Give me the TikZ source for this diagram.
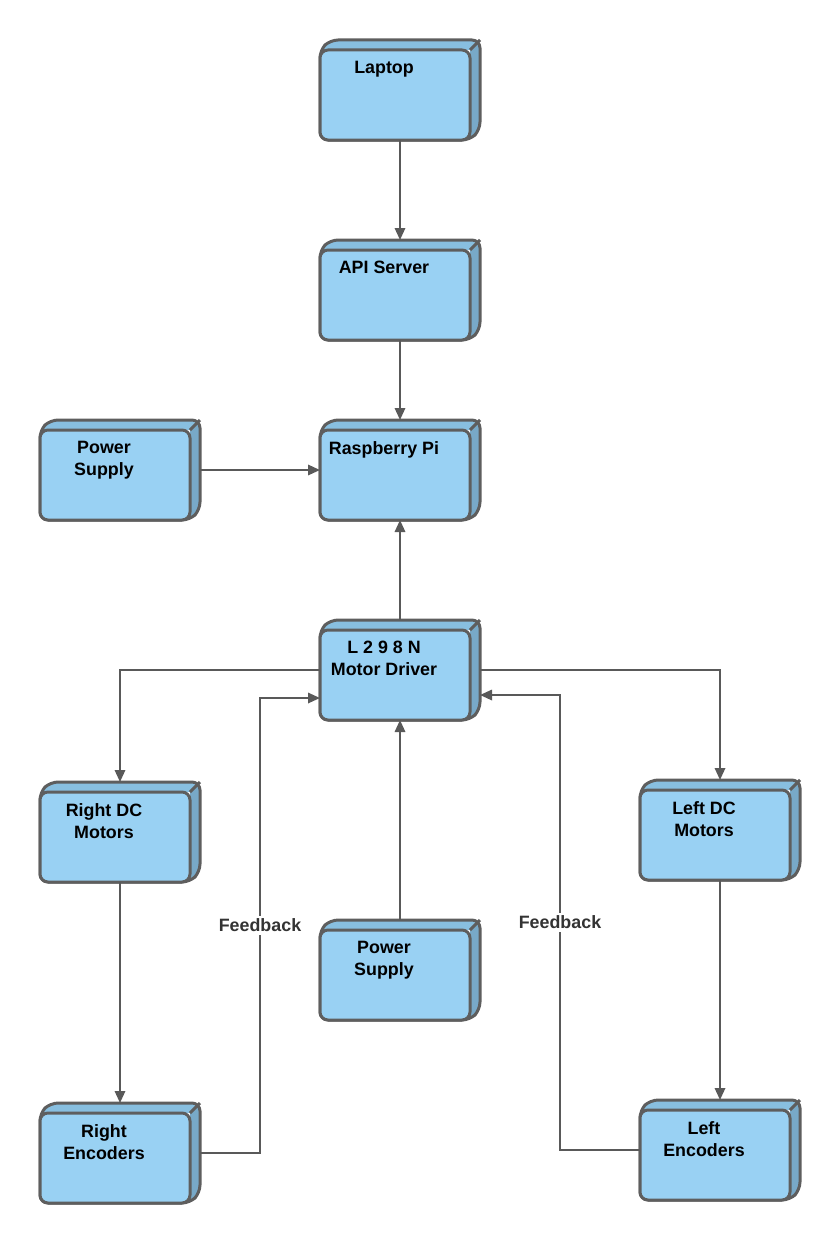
\documentclass[tikz,border=0pt]{standalone}
\usepackage{fontspec}
\setmainfont{Liberation Sans}
\usetikzlibrary{arrows.meta}
\definecolor{frontblue}{HTML}{99D1F3}
\definecolor{topblue}{HTML}{88BFE0}
\definecolor{sideblue}{HTML}{78A9C8}
\definecolor{boxline}{HTML}{5E5E5E}
\definecolor{linkgray}{HTML}{595959}
\definecolor{labelgray}{HTML}{333333}

% #1 Name, #2 Mitte (Pixel), #3 Beschriftung
\newcommand{\unitbox}[3]{%
  \begin{scope}[shift={(#2)}]
    \begin{scope}
      \clip[rounded corners=2mm] (-80,50) -- (-80,-40) -- (-70,-50) -- (80,-50) -- (80,40) -- (70,50) -- cycle;
      \fill[topblue] (-80,-40) -- (-70,-50) -- (80,-50) -- (70,-40) -- cycle;
      \fill[sideblue] (70,-40) -- (80,-50) -- (80,50) -- (70,50) -- cycle;
    \end{scope}
    \draw[face] (-80,50) -- (-80,-40) -- (-70,-50) -- (80,-50) -- (80,40) -- (70,50) -- cycle;
    \draw[face, rounded corners=0pt] (70,-40) -- (80,-50);
    \filldraw[face, fill=frontblue] (-80,-40) rectangle (70,50);
    \node[boxtext] (#1 text) at (-16,-29) {#3};
  \end{scope}
  \node[unit] (#1) at (#2) {};
}

\begin{document}
\begin{tikzpicture}[x=0.25mm, y=-0.25mm] % 1 Einheit = 1 Pixel
\tikzstyle{face} = [draw=boxline, line width=0.75mm, rounded corners=2mm, line join=round]
\tikzstyle{unit} = [rectangle, minimum width=40mm, minimum height=25mm, inner sep=0pt, outer sep=0pt]
\tikzstyle{boxtext} = [anchor=north, inner sep=0pt, align=center, font=\bfseries\fontsize{12.7}{15.6}\selectfont]
\tikzstyle{link} = [draw=linkgray, line width=0.5mm, -{Triangle[length=3mm, width=2.6mm]}]
\tikzstyle{feedback} = [fill=white, inner sep=2pt, text=labelgray, font=\bfseries\fontsize{12.7}{15.6}\selectfont]
\useasboundingbox (0,0) rectangle (840,1240);

\unitbox{laptop}{400,90}{Laptop}
\unitbox{api}{400,290}{API Server}
\unitbox{pi}{400,470}{Raspberry Pi}
\unitbox{psu}{120,470}{Power\\Supply}
\unitbox{driver}{400,670}{L 2 9 8 N\\Motor Driver}
\unitbox{rdc}{120,832}{Right DC\\Motors}
\unitbox{ldc}{720,830}{Left DC\\Motors}
\unitbox{psub}{400,970}{Power\\Supply}
\unitbox{renc}{120,1153}{Right\\Encoders}
\unitbox{lenc}{720,1150}{Left\\Encoders}

\foreach \from/\to in {laptop/api, api/pi, psu/pi, driver/pi, psub/driver, rdc/renc, ldc/lenc}
\draw[link] (\from) -- (\to);
\draw[link] (driver.west) -| (rdc);
\draw[link] (driver.east) -| (ldc);
\draw[link] (renc.east) -- ++(60,0) |- ([yshift=-7mm]driver.west) node[feedback, pos=.25] (fb right) {Feedback};
\draw[link] (lenc.west) -- ++(-80,0) |- ([yshift=-6.25mm]driver.east) node[feedback, pos=.25] (fb left) {Feedback};
\end{tikzpicture}
\end{document}
